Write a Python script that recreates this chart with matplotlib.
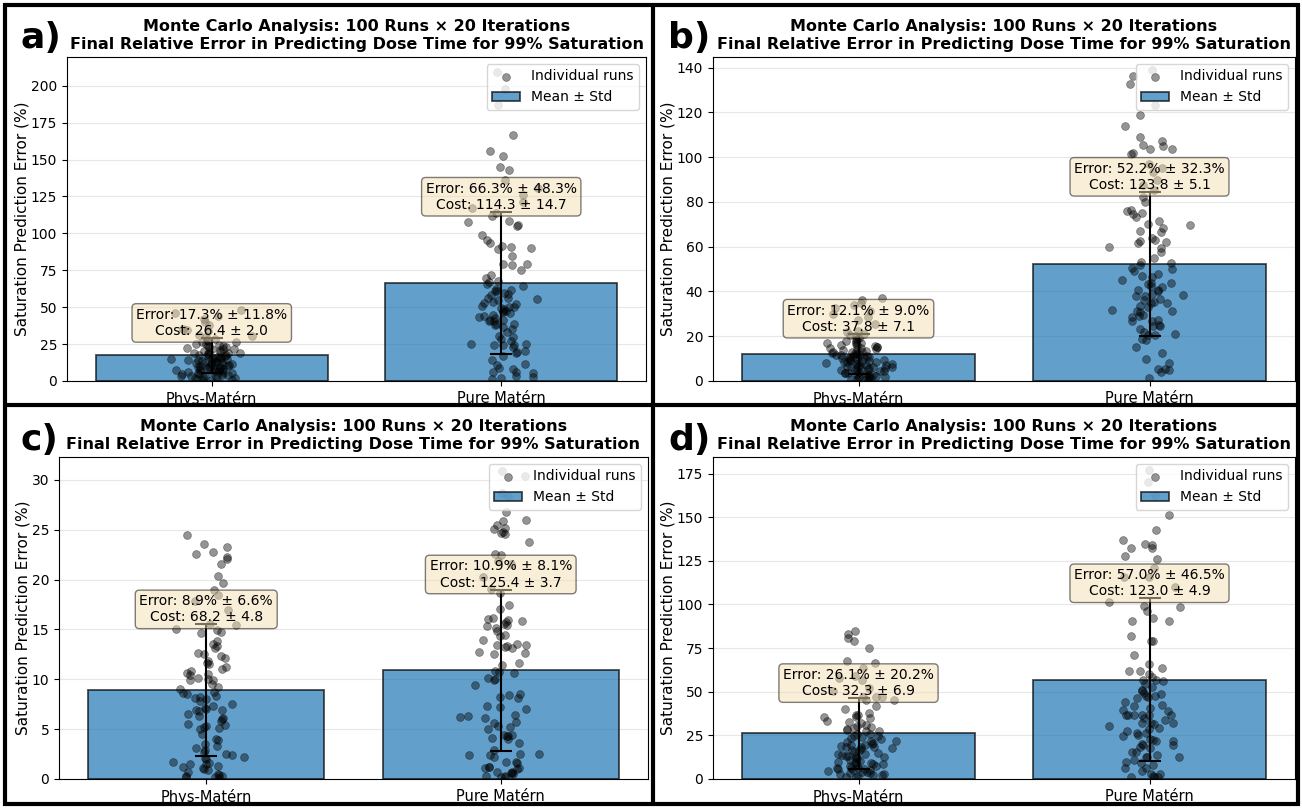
import numpy as np
import matplotlib.pyplot as plt
from matplotlib.lines import Line2D

# categories and per-panel stats
methods = ["Phys-Matérn", "Pure Matérn"]
panel_labels = ["a)", "b)", "c)", "d)"]

err_mean = [[17.3, 66.3], [12.1, 52.2], [8.9, 10.9], [26.1, 57.0]]
err_std = [[11.8, 48.3], [9.0, 32.3], [6.6, 8.1], [20.2, 46.5]]
cost_mean = [[26.4, 114.3], [37.8, 123.8], [68.2, 125.4], [32.3, 123.0]]
cost_std = [[2.0, 14.7], [7.1, 5.1], [4.8, 3.7], [6.9, 4.9]]
ytop = [219.5, 144.8, 32.3, 184.5]

# individual runs (estimated from the scatter)
runs_a_phys = [48.4, 45.9, 44.1, 41.8, 40.2, 37.6, 35.3, 33.9, 31.2, 30.4,
               28.7, 27.5, 26.9, 26.1, 25.4, 24.8, 24.2, 23.6, 23.1, 22.7,
               22.0, 21.4, 20.9, 20.3, 19.8, 19.5, 19.1, 18.6, 18.2, 17.9,
               17.4, 17.0, 16.7, 16.2, 15.8, 15.5, 15.1, 14.6, 14.2, 13.9,
               13.5, 13.1, 12.8, 12.4, 12.0, 11.7, 11.3, 10.9, 10.6, 10.2,
               9.9, 9.5, 9.2, 8.8, 8.5, 8.1, 7.8, 7.4, 7.1, 6.8,
               6.4, 6.1, 5.7, 5.4, 5.0, 4.7, 4.3, 4.0, 3.6, 3.3,
               2.9, 2.6, 2.2, 1.9, 1.5, 1.2, 0.8, 0.5, 29.6, 34.6,
               26.4, 23.9, 21.7, 18.9, 16.0, 13.3, 10.4, 7.6, 5.2, 3.1,
               1.0, 9.0, 12.6, 15.3, 19.3, 22.4, 14.8, 11.1, 8.3, 6.6]
runs_a_pure = [209.5, 197.6, 187.0, 166.7, 156.0, 152.7, 145.3, 143.0, 136.0, 131.0,
               126.0, 121.0, 117.5, 113.8, 112.0, 108.4, 107.8, 105.4, 104.9, 99.0,
               95.7, 93.5, 91.7, 90.6, 90.1, 89.6, 84.5, 79.6, 79.2, 78.8,
               75.0, 70.0, 67.9, 67.3, 64.2, 61.8, 61.3, 60.7, 58.9, 58.3,
               56.2, 55.9, 55.5, 55.1, 53.3, 52.7, 50.8, 50.4, 50.1, 49.7,
               47.6, 47.3, 46.9, 43.2, 42.6, 41.4, 41.1, 40.8, 40.5, 38.7,
               38.3, 37.9, 30.7, 30.1, 27.0, 25.3, 25.0, 24.7, 24.5, 24.2,
               23.2, 19.5, 18.9, 17.0, 11.6, 11.0, 8.7, 8.1, 5.9, 5.5,
               3.4, 2.5, 2.1, 62.5, 48.5, 35.0, 45.0, 33.2, 28.4, 20.3,
               14.2, 6.3, 1.4, 65.8, 72.1, 44.1, 36.6, 52.0, 59.4, 46.2]
runs_b_phys = [37.2, 36.1, 35.0, 33.8, 32.6, 31.5, 29.9, 28.7, 27.4, 25.6,
               22.4, 21.8, 21.1, 20.5, 19.9, 19.4, 18.8, 18.3, 17.9, 17.4,
               16.9, 16.5, 16.1, 15.7, 15.3, 14.9, 14.6, 14.2, 13.8, 13.5,
               13.1, 12.8, 12.4, 12.1, 11.8, 11.4, 11.1, 10.8, 10.4, 10.1,
               9.8, 9.5, 9.2, 8.9, 8.6, 8.3, 8.0, 7.7, 7.6, 7.3,
               7.0, 6.7, 6.4, 6.1, 5.8, 5.5, 5.2, 4.9, 4.6, 4.3,
               4.0, 3.7, 3.4, 3.1, 2.8, 2.5, 2.2, 1.9, 1.6, 1.3,
               1.0, 0.7, 0.4, 15.0, 13.0, 11.0, 9.0, 7.0, 5.0, 3.0,
               16.3, 14.4, 12.6, 10.6, 8.4, 6.6, 4.4, 2.4, 0.9, 17.1,
               11.6, 9.6, 5.6, 3.6, 1.8, 12.2, 6.2, 2.0, 8.2, 10.2]
runs_b_pure = [139.0, 136.3, 132.7, 123.3, 118.8, 114.0, 109.0, 107.2, 105.4, 105.1,
               103.9, 103.6, 101.9, 101.6, 97.0, 95.0, 93.5, 90.0, 87.4, 85.2,
               82.2, 80.0, 76.4, 76.0, 74.9, 74.6, 73.2, 71.4, 70.3, 69.9,
               68.5, 67.2, 66.8, 62.9, 62.6, 62.2, 61.8, 60.0, 59.6, 53.1,
               52.8, 52.0, 50.3, 49.9, 49.0, 46.3, 44.0, 43.8, 43.5, 42.3,
               42.0, 40.8, 40.5, 40.2, 38.3, 38.0, 37.8, 36.8, 36.4, 35.3,
               35.0, 34.8, 33.4, 33.0, 31.6, 31.4, 31.2, 31.0, 28.9, 28.5,
               27.3, 27.0, 26.7, 24.9, 24.7, 24.5, 23.2, 20.8, 20.6, 20.4,
               18.9, 18.5, 12.7, 10.0, 5.4, 5.2, 5.0, 4.2, 1.2, 45.0,
               55.0, 57.5, 64.0, 48.0, 29.5, 22.0, 15.0, 8.0, 39.0, 47.0]
runs_c_phys = [24.5, 23.6, 23.3, 22.8, 22.6, 22.3, 22.1, 21.6, 20.4, 19.7,
               19.0, 18.5, 17.9, 17.0, 15.5, 15.4, 15.0, 14.9, 14.7, 14.6,
               13.5, 13.3, 13.1, 12.6, 12.5, 12.3, 12.1, 11.8, 11.6, 11.5,
               11.0, 10.8, 10.6, 10.5, 10.4, 10.1, 10.0, 9.9, 9.9, 9.2,
               9.0, 8.7, 8.6, 8.5, 8.3, 8.2, 8.1, 7.8, 7.3, 7.1,
               7.0, 6.9, 6.9, 6.8, 6.3, 6.1, 5.8, 5.4, 5.3, 5.2,
               5.1, 5.0, 3.9, 3.3, 3.1, 2.9, 2.7, 2.4, 2.2, 2.1,
               2.0, 1.7, 1.6, 1.5, 1.5, 1.3, 1.2, 1.1, 0.9, 0.7,
               0.4, 0.3, 0.3, 0.2, 0.2, 8.0, 6.5, 4.5, 3.5, 1.0,
               0.5, 9.5, 7.5, 2.5, 4.0, 6.0, 11.2, 13.8, 5.5, 0.1]
runs_c_pure = [30.9, 30.4, 28.7, 28.4, 26.8, 26.0, 25.9, 25.5, 25.2, 25.1,
               24.8, 24.7, 24.6, 23.8, 22.6, 22.5, 21.9, 21.6, 20.3, 19.1,
               18.7, 17.5, 17.1, 16.1, 16.0, 15.9, 15.8, 15.7, 15.5, 15.4,
               15.3, 15.1, 14.8, 14.4, 14.3, 13.9, 13.5, 13.4, 13.4, 13.3,
               13.2, 13.1, 12.7, 12.6, 12.5, 11.6, 11.4, 10.8, 10.7, 10.6,
               10.1, 10.0, 9.9, 9.4, 8.5, 8.4, 8.2, 8.1, 7.3, 7.2,
               7.0, 6.4, 6.3, 6.2, 6.1, 5.7, 5.6, 5.3, 5.2, 5.0,
               4.4, 4.4, 4.3, 4.3, 4.1, 4.0, 2.9, 2.5, 2.5, 2.4,
               2.4, 2.2, 1.7, 1.7, 1.6, 1.2, 1.2, 1.1, 1.1, 1.0,
               0.7, 0.7, 0.6, 0.6, 0.5, 0.3, 0.3, 0.2, 0.2, 3.6]
runs_d_phys = [84.8, 83.3, 80.9, 79.0, 75.1, 67.7, 66.4, 63.5, 59.0, 58.0,
               56.7, 52.2, 50.3, 47.2, 47.0, 46.8, 45.4, 45.0, 42.0, 40.1,
               36.9, 36.5, 35.5, 35.3, 35.1, 32.6, 32.2, 30.3, 30.0, 29.2,
               28.8, 27.6, 27.4, 24.8, 24.5, 23.8, 23.6, 22.7, 21.0, 20.6,
               19.4, 19.2, 19.0, 18.6, 18.4, 18.2, 16.6, 16.4, 14.6, 14.4,
               13.6, 13.4, 13.2, 13.0, 12.1, 11.9, 8.9, 8.7, 8.5, 7.2,
               6.3, 6.2, 6.1, 4.9, 4.7, 3.4, 3.2, 2.4, 2.2, 1.4,
               31.0, 28.0, 26.0, 25.5, 22.0, 21.5, 20.0, 17.5, 17.0, 15.5,
               15.0, 12.5, 11.0, 10.5, 10.0, 9.5, 9.0, 7.8, 7.5, 5.8,
               5.5, 5.0, 4.0, 3.8, 3.0, 2.8, 1.8, 1.0, 38.0, 33.5]
runs_d_pure = [177.0, 170.0, 162.8, 151.2, 142.6, 137.2, 134.5, 134.1, 132.6, 132.2,
               127.5, 126.0, 121.0, 115.8, 115.6, 110.0, 101.3, 98.9, 98.7, 96.5,
               92.0, 90.7, 90.5, 81.9, 79.1, 78.9, 71.2, 63.4, 62.0, 61.8,
               60.0, 56.7, 56.5, 56.3, 54.2, 50.9, 50.7, 49.0, 48.8, 47.5,
               47.3, 47.1, 46.3, 42.2, 42.0, 40.5, 36.9, 36.8, 36.7, 36.6,
               36.5, 36.4, 34.8, 32.2, 32.1, 31.9, 31.8, 29.1, 28.9, 26.3,
               26.1, 24.6, 23.0, 21.8, 21.6, 19.8, 19.7, 19.6, 18.2, 15.4,
               15.2, 12.7, 12.6, 12.5, 11.0, 9.4, 6.3, 6.1, 3.0, 2.8,
               1.4, 1.3, 1.2, 44.0, 39.0, 34.0, 27.5, 22.5, 17.5, 14.0,
               8.0, 4.5, 53.0, 58.5, 66.0, 39.5, 30.5, 25.0, 10.0, 2.0]

runs = [[runs_a_phys, runs_a_pure], [runs_b_phys, runs_b_pure],
        [runs_c_phys, runs_c_pure], [runs_d_phys, runs_d_pure]]

W, H = 1302, 808
fig = plt.figure(figsize=(W / 100, H / 100), dpi=100)

# axes boxes in pixels: left, top, right, bottom
boxes = [(67, 57, 646, 381), (713, 57, 1295, 381),
         (59, 457, 648, 779), (713, 457, 1295, 779)]
label_pos = [(20, 38), (668, 38), (20, 440), (668, 440)]

rng = np.random.default_rng(3)  # only for horizontal jitter
title = ("Monte Carlo Analysis: 100 Runs \u00d7 20 Iterations\n"
         "Final Relative Error in Predicting Dose Time for 99% Saturation")

for k in range(4):
    l, t, r, b = boxes[k]
    ax = fig.add_axes([l / W, 1 - b / H, (r - l) / W, (b - t) / H])
    x = np.arange(len(methods))

    for i in range(2):
        vals = np.array(runs[k][i])
        jit = np.clip(rng.normal(0, 0.05, len(vals)), -0.14, 0.14)
        ax.scatter(x[i] + jit, vals, s=32, color="black", alpha=0.42,
                   linewidths=0.5, label="Individual runs" if i == 0 else None,
                   zorder=2)

    ax.bar(x, err_mean[k], width=0.8, color="#1f77b4", alpha=0.7,
           edgecolor="black", linewidth=1.3, label="Mean \u00b1 Std", zorder=1)
    ax.errorbar(x, err_mean[k], yerr=err_std[k], fmt="none", ecolor="black",
                elinewidth=1.5, capsize=8, capthick=1.5, zorder=3)

    for i in range(2):
        txt = (f"Error: {err_mean[k][i]:.1f}% \u00b1 {err_std[k][i]:.1f}%\n"
               f"Cost: {cost_mean[k][i]:.1f} \u00b1 {cost_std[k][i]:.1f}")
        ax.text(x[i], err_mean[k][i] + err_std[k][i], txt, ha="center",
                va="bottom", fontsize=10, zorder=5,
                bbox=dict(boxstyle="round", facecolor="wheat", alpha=0.5))

    ax.set_xlim(-0.5, 1.5)
    ax.set_ylim(0, ytop[k])
    ax.set_xticks(x)
    ax.set_xticklabels(methods, fontsize=10.5)
    ax.tick_params(axis="y", labelsize=10)
    ax.set_ylabel("Saturation Prediction Error (%)", fontsize=11, labelpad=1)
    ax.set_title(title, fontsize=11.5, fontweight="bold")
    ax.grid(axis="y", alpha=0.3)
    ax.set_axisbelow(True)
    ax.legend(loc="upper right", fontsize=10)

    fig.text(label_pos[k][0] / W, 1 - label_pos[k][1] / H, panel_labels[k],
             fontsize=26, fontweight="bold", ha="left", va="center")

# black frames around the panels
lw = 3
def hline(y, x0, x1):
    fig.add_artist(Line2D([x0 / W, x1 / W], [1 - y / H, 1 - y / H],
                          color="black", lw=lw, solid_capstyle="butt"))
def vline(x, y0, y1):
    fig.add_artist(Line2D([x / W, x / W], [1 - y0 / H, 1 - y1 / H],
                          color="black", lw=lw, solid_capstyle="butt"))

hline(5, 3, 1299)
hline(405, 3, 1299)
hline(804, 3, 1299)
vline(5, 3, 806)
vline(653, 3, 806)
vline(1298, 3, 806)

fig.savefig("out.png", dpi=100)
